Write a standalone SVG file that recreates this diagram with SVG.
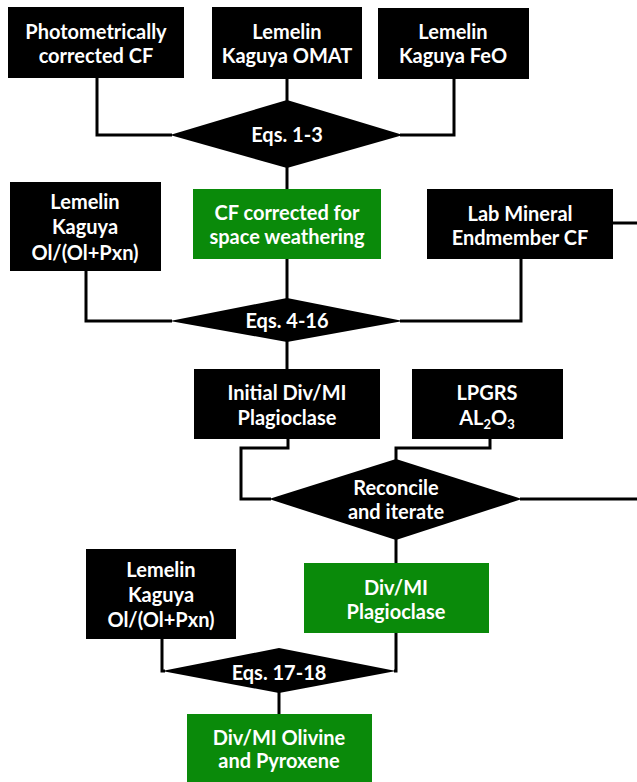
<svg xmlns="http://www.w3.org/2000/svg" width="637" height="782" viewBox="0 0 637 782">
<style>
.blk{fill:#000}
.grn{fill:#0a8a0a}
.t{fill:#fff;font-family:Lato,"Liberation Sans",sans-serif;font-weight:bold;font-size:20px;text-anchor:middle}
.c{fill:none;stroke:#000;stroke-width:3}
</style>
<rect width="637" height="782" fill="#fff"/>
<g id="connectors">
<polyline class="c" points="97,78 97,135 172,135"/>
<line class="c" x1="287" y1="79" x2="287" y2="102"/>
<polyline class="c" points="454,79 454,135 400,135"/>
<line class="c" x1="287" y1="166" x2="287" y2="190"/>
<polyline class="c" points="86,271 86,321 172,321"/>
<line class="c" x1="287" y1="258" x2="287" y2="300"/>
<polyline class="c" points="521,259 521,321 400,321"/>
<line class="c" x1="613" y1="223" x2="637" y2="223"/>
<line class="c" x1="287" y1="341" x2="287" y2="370"/>
<polyline class="c" points="288,439 288,448 241,448 241,499 271,499"/>
<polyline class="c" points="490,439 490,448 396,448 396,461"/>
<line class="c" x1="520" y1="499" x2="637" y2="499"/>
<line class="c" x1="396" y1="538" x2="396" y2="564"/>
<polyline class="c" points="396,633 396,671 394,671"/>
<polyline class="c" points="162,639 162,671 165,671"/>
<line class="c" x1="279" y1="692" x2="279" y2="715"/>
</g>
<g id="photometric">
<rect class="blk" x="8" y="7" width="176" height="71"/>
<text class="t" x="96" y="39">Photometrically</text>
<text class="t" x="96" y="63">corrected CF</text>
</g>
<g id="omat">
<rect class="blk" x="212" y="7" width="150" height="72"/>
<text class="t" x="287" y="39">Lemelin</text>
<text class="t" x="287" y="63">Kaguya OMAT</text>
</g>
<g id="feo">
<rect class="blk" x="378" y="8" width="151" height="71"/>
<text class="t" x="453" y="39">Lemelin</text>
<text class="t" x="453" y="63">Kaguya FeO</text>
</g>
<g id="eqs1">
<polygon class="blk" points="170,135 287,100 403,135 287,168"/>
<text class="t" x="287" y="142">Eqs. 1-3</text>
</g>
<g id="cfsw">
<rect class="grn" x="193" y="189" width="188" height="70"/>
<text class="t" x="287" y="220">CF corrected for</text>
<text class="t" x="287" y="244">space weathering</text>
</g>
<g id="olpxn1">
<rect class="blk" x="10" y="182" width="151" height="89"/>
<text class="t" x="85" y="209">Lemelin</text>
<text class="t" x="85" y="234">Kaguya</text>
<text class="t" x="85" y="260">Ol/(Ol+Pxn)</text>
</g>
<g id="lab">
<rect class="blk" x="427" y="189" width="186" height="70"/>
<text class="t" x="520" y="221">Lab Mineral</text>
<text class="t" x="520" y="245">Endmember CF</text>
</g>
<g id="eqs4">
<polygon class="blk" points="170,321 287,298 403,321 287,342"/>
<text class="t" x="287" y="328">Eqs. 4-16</text>
</g>
<g id="initial">
<rect class="blk" x="194" y="369" width="186" height="70"/>
<text class="t" x="287" y="400">Initial Div/MI</text>
<text class="t" x="287" y="425">Plagioclase</text>
</g>
<g id="lpgrs">
<rect class="blk" x="412" y="369" width="151" height="70"/>
<text class="t" x="487" y="400">LPGRS</text>
<text class="t" x="487" y="425">AL<tspan font-size="13" dy="4">2</tspan><tspan dy="-4">O</tspan><tspan font-size="13" dy="4">3</tspan></text>
</g>
<g id="reconcile">
<polygon class="blk" points="269,499 396,459 522,499 396,540"/>
<text class="t" x="396" y="495">Reconcile</text>
<text class="t" x="396" y="519">and iterate</text>
</g>
<g id="plag">
<rect class="grn" x="304" y="563" width="185" height="70"/>
<text class="t" x="396" y="595">Div/MI</text>
<text class="t" x="396" y="619">Plagioclase</text>
</g>
<g id="olpxn2">
<rect class="blk" x="86" y="549" width="150" height="90"/>
<text class="t" x="161" y="577">Lemelin</text>
<text class="t" x="161" y="602">Kaguya</text>
<text class="t" x="161" y="627">Ol/(Ol+Pxn)</text>
</g>
<g id="eqs17">
<polygon class="blk" points="162,671 279,648 396,671 279,693"/>
<text class="t" x="279" y="680">Eqs. 17-18</text>
</g>
<g id="olivine">
<rect class="grn" x="187" y="714" width="185" height="70"/>
<text class="t" x="279" y="745">Div/MI Olivine</text>
<text class="t" x="279" y="768">and Pyroxene</text>
</g>
</svg>
